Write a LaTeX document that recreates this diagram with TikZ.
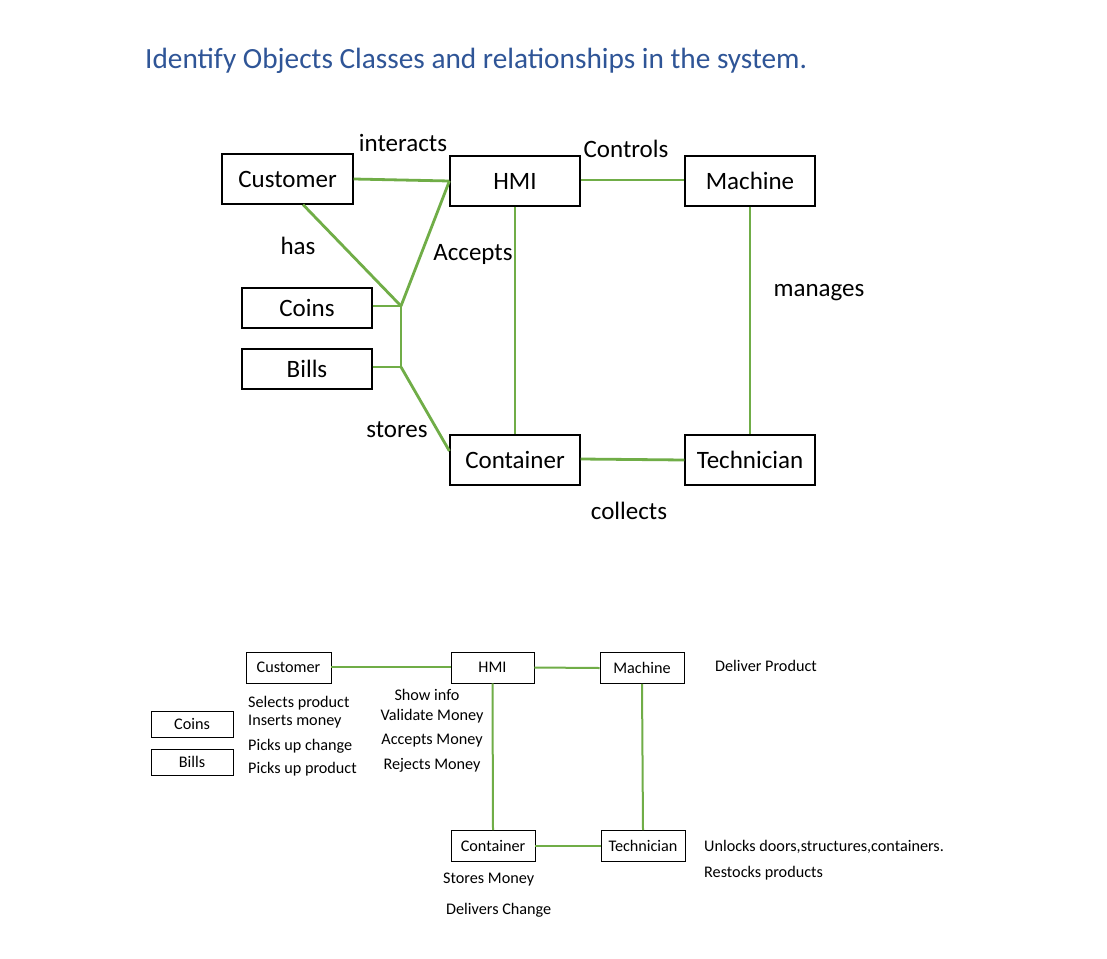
\documentclass[tikz,border=0pt]{standalone}
\usepackage{fontspec}
\setmainfont{Carlito}
\usetikzlibrary{calc}
\definecolor{lngreen}{HTML}{70AD47}
\definecolor{ttlblue}{HTML}{2F5597}
\begin{document}
\begin{tikzpicture}[x=1pt,y=-1pt,
  bigbox/.style={draw=black, line width=1.2pt, inner sep=0pt, minimum width=130pt, minimum height=50pt, font=\fontsize{25}{29}\selectfont},
  midbox/.style={bigbox, minimum height=40pt},
  smallbox/.style={draw=black, line width=0.9pt, inner sep=0pt, minimum width=84pt, minimum height=31pt, font=\fontsize{16.2}{19}\selectfont},
  tinybox/.style={smallbox, minimum width=82pt, minimum height=26pt},
  gline/.style={draw=lngreen, line width=2.8pt},
  sline/.style={draw=lngreen, line width=2pt},
  biglabel/.style={inner sep=0pt, font=\fontsize{25}{29}\selectfont},
  smalltext/.style={inner sep=0pt, font=\fontsize{16.2}{19}\selectfont}
]
\fill[white] (0,0) rectangle (1107,958);
\useasboundingbox (0,0) rectangle (1107,958);

% Title
\node[anchor=west, inner sep=0pt, text=ttlblue, font=\fontsize{29.3}{34}\selectfont] (title) at (145,61) {Identify Objects Classes and relationships in the system.};

% Top diagram
\node[bigbox, minimum width=131pt] (cust) at (287.5,179) {Customer};
\node[bigbox] (hmi) at (515,181) {HMI};
\node[bigbox] (mach) at (750,181) {Machine};
\node[midbox] (coins) at (307,308) {Coins};
\node[midbox] (bills) at (307,369) {Bills};
\node[bigbox] (cont) at (515,460) {Container};
\node[bigbox] (tech) at (750,460) {Technician};

\coordinate (j1) at (401,306);
\coordinate (j2) at (401,367);

\draw[gline] (cust.east) -- (hmi.west);
\draw[gline] ($(cust.south)+(15.5,0)$) -- (j1);
\draw[gline] (j1) -- (hmi.west);
\draw[gline] ($(coins.east)+(0,-2)$) -- (j1);
\draw[gline] (j1) -- (j2);
\draw[gline] ($(bills.east)+(0,-2)$) -- (j2);
\draw[gline] (j2) -- ($(cont.west)+(0,-9)$);
\draw[gline] (hmi.south) -- (cont.north);
\draw[gline] ($(hmi.east)+(0,-1)$) -- ($(mach.west)+(0,-1)$);
\draw[gline] (mach.south) -- (tech.north);
\draw[gline] ($(cont.east)+(0,-1)$) -- (tech.west);

\node[biglabel] (linteracts) at (403,143) {interacts};
\node[biglabel] (lcontrols) at (626,149) {Controls};
\node[biglabel] (lhas) at (298,246) {has};
\node[biglabel] (laccepts) at (473,254) {Accepts};
\node[biglabel] (lmanages) at (819,293) {manages};
\node[biglabel] (lstores) at (397,430) {stores};
\node[biglabel] (lcollects) at (629,511) {collects};

% Bottom diagram
\node[smallbox, minimum width=85pt] (bcust) at (288.5,667.5) {Customer};
\node[smallbox, minimum width=83pt] (bhmi) at (492.5,667.5) {HMI};
\node[smallbox] (bmach) at (642,668) {Machine};
\node[tinybox] (bcoins) at (192,724) {Coins};
\node[tinybox] (bbills) at (192,762) {Bills};
\node[smallbox] (bcont) at (493,846) {Container};
\node[smallbox] (btech) at (643,846) {Technician};

\draw[sline] ($(bcust.east)+(0,-0.5)$) -- ($(bhmi.west)+(0,-0.5)$);
\draw[sline] (bhmi.east) -- (bmach.west);
\draw[sline] (bhmi.south) -- (bcont.north);
\draw[sline] (bmach.south) -- (btech.north);
\draw[sline] (bcont.east) -- (btech.west);

\node[smalltext, anchor=west] (t1) at (248,703) {Selects product};
\node[smalltext, anchor=west] (t2) at (248,722) {Inserts money};
\node[smalltext, anchor=west] (t3) at (248,746) {Picks up change};
\node[smalltext, anchor=west] (t4) at (248,769) {Picks up product};

\node[smalltext] (h1) at (427,695) {Show info};
\node[smalltext] (h2) at (432,716) {Validate Money};
\node[smalltext] (h3) at (432,741) {Accepts Money};
\node[smalltext] (h4) at (432,765) {Rejects Money};

\node[smalltext, anchor=west] (m1) at (715,666) {Deliver Product};
\node[smalltext, anchor=west] (r1) at (704,847) {Unlocks doors,structures,containers.};
\node[smalltext, anchor=west] (r2) at (704,873) {Restocks products};
\node[smalltext, anchor=west] (c1) at (443,880) {Stores Money};
\node[smalltext, anchor=west] (c2) at (446,910) {Delivers Change};
\end{tikzpicture}
\end{document}
